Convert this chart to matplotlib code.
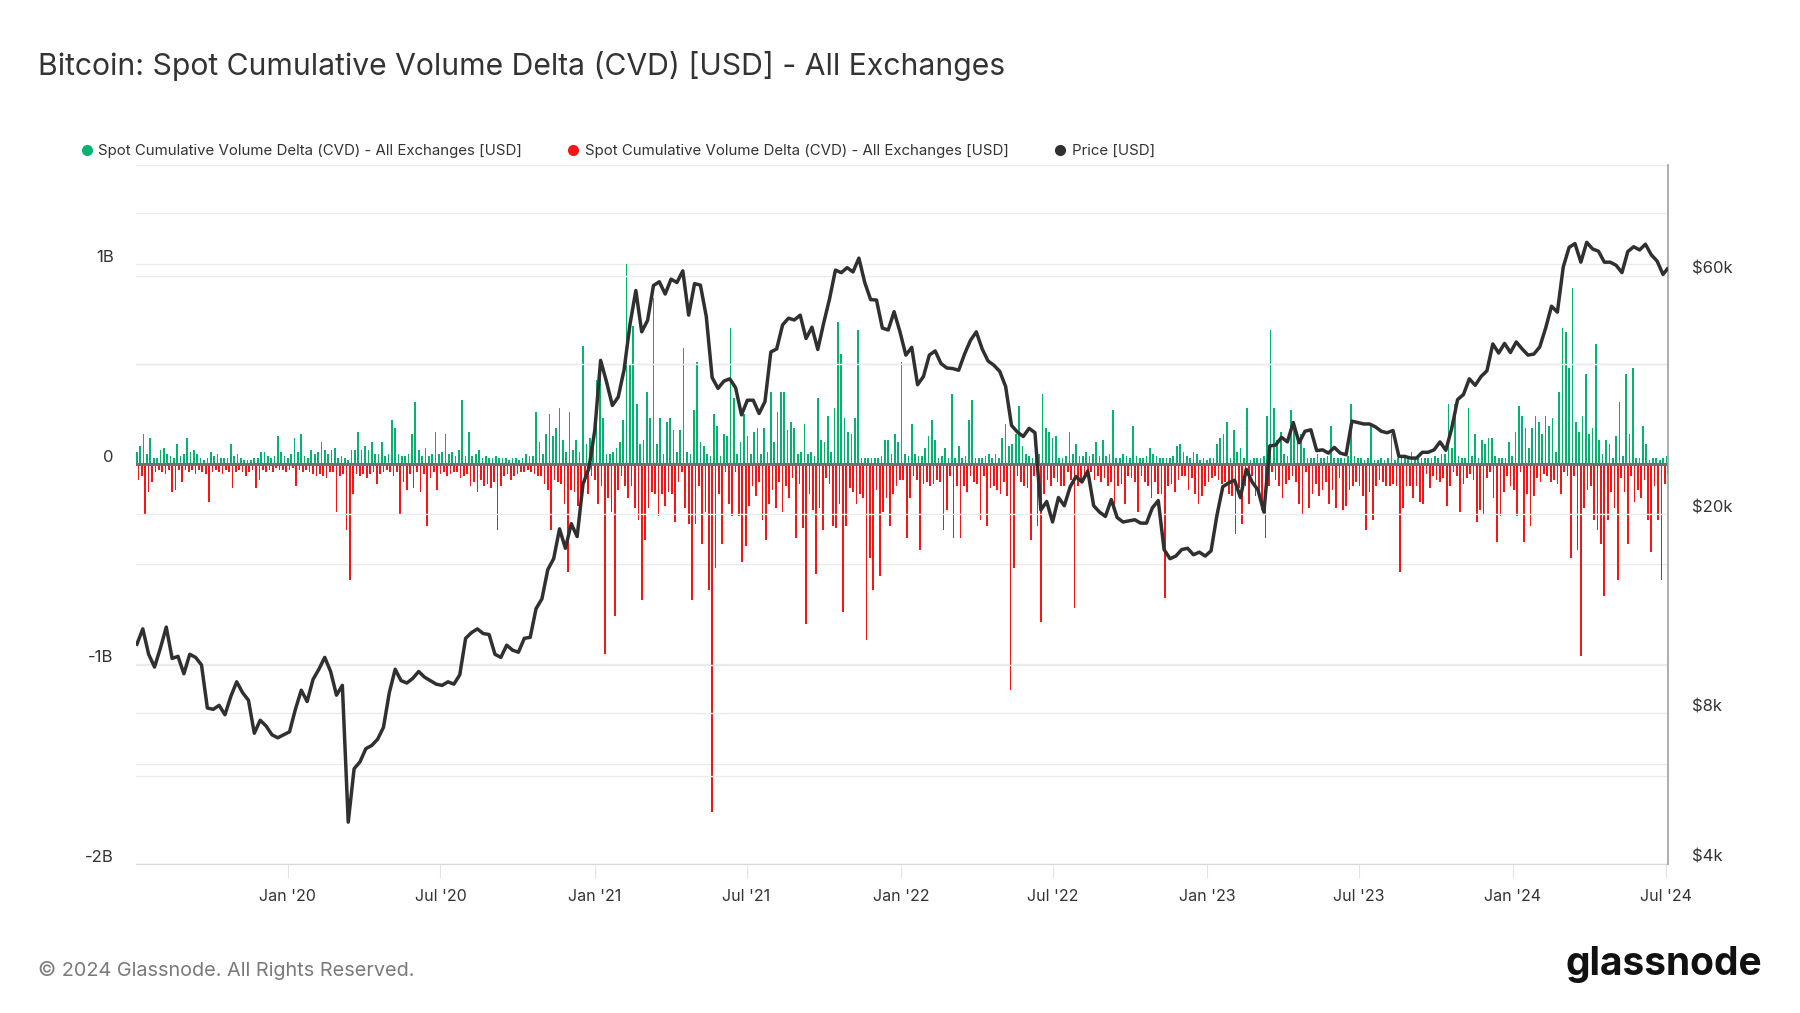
import numpy as np
import pandas as pd
import matplotlib
matplotlib.use('Agg')
import matplotlib.pyplot as plt
import matplotlib.dates as mdates
import matplotlib.ticker as mticker
from matplotlib.lines import Line2D
from matplotlib.transforms import ScaledTranslation

plt.rcParams['font.family'] = ['Inter', 'DejaVu Sans']

GREEN = '#05b370'
RED = '#f21616'
PRICE = '#303030'

# spot CVD, buy side / sell side, 4-day buckets from 2019-07-05, units of 10M USD
cvd_buy = [
    6, 9, 15, 5, 13, 3, 3, 7, 8, 5,
    4, 3, 10, 4, 5, 13, 6, 7, 5, 3,
    2, 3, 6, 4, 5, 3, 3, 3, 10, 4,
    5, 3, 2, 2, 2, 3, 3, 6, 6, 4,
    3, 4, 14, 6, 4, 3, 5, 13, 6, 15,
    4, 3, 7, 5, 6, 11, 7, 5, 7, 8,
    3, 4, 3, 2, 7, 7, 16, 7, 9, 7,
    11, 5, 5, 11, 4, 5, 22, 18, 5, 4,
    4, 5, 15, 31, 7, 4, 8, 4, 5, 16,
    5, 6, 15, 5, 6, 4, 7, 32, 4, 16,
    4, 5, 7, 3, 4, 3, 3, 4, 3, 3,
    3, 2, 3, 3, 2, 3, 5, 4, 4, 26,
    11, 5, 15, 25, 14, 18, 28, 12, 6, 26,
    7, 12, 6, 59, 10, 13, 8, 42, 46, 23,
    5, 5, 6, 8, 11, 22, 100, 50, 69, 30,
    10, 12, 36, 23, 83, 10, 23, 5, 21, 23,
    17, 6, 17, 58, 6, 5, 27, 51, 11, 9,
    5, 4, 25, 19, 4, 15, 14, 68, 33, 5,
    11, 25, 14, 5, 16, 18, 5, 18, 6, 36,
    11, 26, 36, 36, 17, 21, 18, 5, 6, 20,
    5, 6, 4, 33, 12, 11, 24, 6, 28, 71,
    55, 23, 16, 15, 23, 67, 3, 3, 3, 3,
    3, 3, 4, 12, 12, 5, 15, 11, 51, 5,
    4, 20, 5, 4, 4, 8, 14, 22, 12, 3,
    4, 8, 3, 35, 3, 9, 3, 4, 22, 32,
    3, 3, 3, 4, 5, 3, 5, 3, 13, 20,
    9, 10, 15, 29, 9, 5, 4, 3, 3, 5,
    35, 18, 16, 13, 14, 3, 3, 4, 16, 5,
    10, 4, 4, 6, 4, 5, 11, 4, 12, 4,
    5, 27, 3, 3, 5, 4, 3, 19, 4, 3,
    3, 4, 8, 5, 4, 3, 3, 3, 3, 4,
    9, 10, 6, 4, 3, 6, 5, 2, 3, 2,
    3, 3, 10, 13, 15, 21, 3, 17, 6, 8,
    3, 28, 2, 3, 3, 3, 4, 24, 67, 28,
    12, 16, 5, 4, 27, 21, 12, 15, 8, 3,
    3, 3, 5, 3, 3, 4, 19, 3, 3, 3,
    3, 4, 30, 4, 3, 3, 2, 3, 20, 2,
    2, 3, 2, 3, 15, 2, 3, 3, 3, 4,
    6, 3, 3, 3, 3, 3, 3, 4, 3, 5,
    5, 30, 8, 30, 4, 3, 3, 28, 4, 15,
    3, 12, 10, 13, 13, 4, 3, 3, 3, 11,
    4, 16, 29, 24, 18, 8, 18, 24, 21, 15,
    24, 19, 23, 6, 36, 68, 66, 48, 88, 21,
    16, 24, 45, 15, 18, 60, 12, 5, 12, 10,
    3, 14, 31, 4, 45, 15, 48, 3, 3, 19,
    10, 2, 3, 3, 2, 3, 4,
]

cvd_sell = [
    8, 6, 25, 14, 9, 4, 3, 4, 5, 3,
    14, 13, 3, 9, 3, 4, 3, 5, 3, 4,
    5, 19, 4, 3, 4, 5, 3, 4, 12, 4,
    3, 4, 6, 4, 3, 12, 8, 3, 4, 3,
    4, 2, 3, 3, 4, 3, 2, 11, 3, 4,
    3, 4, 5, 6, 5, 6, 7, 4, 4, 24,
    6, 5, 33, 58, 15, 5, 6, 5, 7, 5,
    4, 10, 5, 4, 3, 4, 6, 4, 25, 9,
    13, 5, 12, 4, 14, 5, 31, 7, 4, 13,
    5, 4, 6, 5, 4, 4, 7, 6, 5, 11,
    9, 14, 8, 11, 10, 12, 9, 33, 11, 6,
    5, 8, 6, 5, 4, 4, 3, 4, 5, 6,
    6, 10, 13, 33, 8, 9, 10, 20, 54, 13,
    14, 21, 15, 9, 15, 6, 8, 20, 11, 95,
    17, 24, 76, 13, 6, 11, 17, 11, 22, 28,
    68, 38, 22, 14, 15, 26, 15, 21, 14, 15,
    29, 9, 4, 22, 30, 68, 30, 11, 40, 24,
    63, 174, 52, 15, 40, 4, 20, 26, 4, 26,
    49, 41, 21, 11, 16, 9, 28, 38, 20, 13,
    22, 9, 24, 11, 17, 7, 37, 10, 32, 80,
    15, 23, 55, 22, 33, 7, 10, 31, 32, 20,
    74, 31, 12, 14, 20, 15, 17, 88, 47, 63,
    13, 56, 24, 17, 31, 15, 11, 8, 8, 37,
    17, 6, 8, 43, 10, 9, 11, 10, 8, 9,
    33, 23, 6, 37, 11, 37, 11, 14, 6, 9,
    10, 28, 6, 31, 12, 11, 13, 15, 9, 16,
    113, 52, 6, 9, 11, 12, 38, 6, 31, 79,
    15, 8, 11, 7, 9, 11, 11, 4, 8, 72,
    11, 8, 6, 6, 4, 8, 6, 9, 7, 11,
    9, 24, 11, 10, 20, 6, 7, 9, 24, 6,
    9, 11, 17, 9, 15, 15, 67, 11, 10, 14,
    8, 6, 6, 13, 7, 15, 20, 16, 11, 9,
    7, 6, 8, 10, 9, 15, 16, 35, 12, 30,
    11, 20, 6, 16, 15, 23, 37, 11, 4, 8,
    11, 17, 10, 8, 6, 9, 20, 25, 4, 22,
    15, 10, 16, 13, 9, 20, 13, 22, 7, 23,
    21, 13, 11, 9, 11, 16, 33, 14, 28, 11,
    8, 9, 11, 11, 10, 11, 54, 22, 11, 11,
    17, 11, 19, 20, 5, 12, 6, 8, 9, 7,
    21, 11, 4, 6, 24, 10, 7, 5, 8, 29,
    23, 25, 7, 4, 17, 39, 26, 14, 6, 11,
    13, 26, 4, 39, 15, 31, 16, 7, 9, 5,
    6, 9, 8, 10, 15, 4, 6, 47, 6, 43,
    96, 22, 13, 11, 28, 33, 40, 66, 28, 14,
    22, 58, 7, 14, 40, 6, 19, 13, 17, 8,
    28, 44, 11, 28, 58, 10, 5,
]

# BTC price, weekly from 2019-07-05, last point 2024-07-03
price_usd = [
    # 2019
    11000, 11800, 10500, 9900, 10800, 11900, 10300, 10400, 9600, 10500,
    10350, 10000, 8200, 8150, 8300, 7950, 8650, 9250, 8800, 8500,
    7300, 7750, 7550, 7250, 7150, 7250,
    # 2020
    7350, 8150, 8900, 8450, 9350, 9800, 10350, 9700, 8700, 9100,
    4850, 6200, 6400, 6800, 6900, 7100, 7500, 8800, 9800, 9300,
    9200, 9400, 9700, 9450, 9300, 9150, 9100, 9250, 9150, 9550,
    11300, 11600, 11800, 11550, 11500, 10500, 10350, 10950, 10700, 10600,
    11300, 11350, 12950, 13550, 15500, 16300, 18700, 17100, 19150, 18050,
    23000, 24700,
    # 2021
    29400, 40600, 36800, 33000, 34300, 38900, 47900, 56000, 46300, 48800,
    57300, 58300, 55100, 59000, 58100, 61300, 50000, 57800, 57400, 49700,
    37500, 35700, 36900, 37300, 35800, 31600, 33800, 33800, 31800, 33600,
    42200, 42800, 47800, 49300, 48900, 50000, 44900, 47300, 42700, 48200,
    53900, 61500, 60800, 62200, 61000, 65000, 58100, 53700, 53600, 47100,
    46700, 50800, 46300,
    # 2022
    41600, 43100, 36300, 37700, 41600, 42400, 40000, 39200, 39100, 38800,
    41800, 44500, 46300, 42800, 40500, 39700, 38600, 36000, 30100, 29200,
    28600, 29700, 29100, 20400, 21200, 19300, 21600, 20800, 22700, 23800,
    23200, 24400, 20800, 20200, 19800, 21400, 19700, 19300, 19400, 19500,
    19200, 19200, 20600, 21300, 17000, 16300, 16500, 17000, 17100, 16600,
    16800, 16500,
    # 2023
    16900, 19900, 22700, 23100, 23400, 21600, 24600, 23200, 22350, 20200,
    27400, 27500, 28500, 27900, 30500, 27800, 29300, 29500, 26800, 26900,
    26500, 27200, 26500, 26300, 30700, 30500, 30300, 30300, 29900, 29300,
    29100, 29400, 26100, 26100, 25900, 25900, 26600, 26600, 26900, 27900,
    26850, 29700, 33900, 34700, 37300, 36200, 37700, 38700, 43800, 42000,
    43900, 42100,
    # 2024
    44200, 42800, 41600, 41800, 43200, 47100, 52100, 50700, 62400, 68300,
    69500, 63800, 69900, 67800, 67100, 63800, 63800, 62900, 60800, 67000,
    68500, 67500, 69300, 66000, 64100, 60300,
    61800,
]

legend_labels = [
    'Spot Cumulative Volume Delta (CVD) - All Exchanges [USD]',
    'Spot Cumulative Volume Delta (CVD) - All Exchanges [USD]',
    'Price [USD]',
]


def main():
    n = len(cvd_buy)
    assert n == len(cvd_sell), (n, len(cvd_sell))
    buy_dates = pd.date_range('2019-07-05', periods=n, freq='4D')
    sell_dates = buy_dates + pd.Timedelta(days=2)
    price_dates = list(pd.date_range('2019-07-05', periods=len(price_usd) - 1, freq='7D'))
    price_dates.append(pd.Timestamp('2024-07-03'))

    fig = plt.figure(figsize=(18, 10.13), dpi=100)
    ax = fig.add_axes([0.0756, 0.1471, 0.8511, 0.6905])
    ax2 = ax.twinx()

    ax.bar(buy_dates, np.array(cvd_buy) * 1e7, width=2.0, color=GREEN, linewidth=0, zorder=2)
    ax.bar(sell_dates, -np.array(cvd_sell) * 1e7, width=2.0, color=RED, linewidth=0, zorder=2)
    ax.axhline(0, color='#707070', lw=2.2, zorder=3)

    ax.set_ylim(-2e9, 1.5e9)
    ax.set_yticks([-2e9, -1e9, 0, 1e9])
    ax.set_yticklabels(['-2B', '-1B', '0', '1B'])
    ax.set_yticks([-1.5e9, -0.5e9, 0.5e9, 1.5e9], minor=True)
    ax.grid(axis='y', which='both', color='#ebebeb', lw=1)
    ax.set_axisbelow(True)

    ax.set_xlim(pd.Timestamp('2019-07-04'), pd.Timestamp('2024-07-04'))
    ax.xaxis.set_major_locator(mdates.MonthLocator(bymonth=[1, 7]))
    ax.xaxis.set_major_formatter(mdates.DateFormatter("%b '%y"))

    ax2.plot(price_dates, price_usd, color=PRICE, lw=2.5, solid_joinstyle='round', zorder=5)
    ax2.set_yscale('log')
    ax2.set_ylim(4000, 100000)
    ax2.yaxis.set_major_locator(mticker.FixedLocator([4000, 8000, 20000, 60000]))
    ax2.yaxis.set_major_formatter(mticker.FixedFormatter(['\\$4k', '\\$8k', '\\$20k', '\\$60k']))
    ax2.yaxis.set_minor_locator(mticker.FixedLocator([6000, 10000, 40000, 80000]))
    ax2.yaxis.set_minor_formatter(mticker.NullFormatter())
    ax2.grid(axis='y', which='both', color='#ebebeb', lw=1)

    for a in (ax, ax2):
        for s in ('top', 'left', 'right', 'bottom'):
            a.spines[s].set_visible(False)
    ax.spines['bottom'].set_visible(True)
    ax.spines['bottom'].set_color('#d9d9d9')
    ax2.spines['right'].set_visible(True)
    ax2.spines['right'].set_color('#a0a0a0')
    ax2.spines['right'].set_linewidth(1.2)

    ax.tick_params(axis='y', which='both', length=0, pad=16, labelsize=12, labelcolor='#333333')
    ax.tick_params(axis='x', length=10, width=0.8, color='#e3e3e3', pad=8, labelsize=11.5,
                   labelcolor='#333333')
    ax2.tick_params(axis='y', which='both', length=0, pad=17, labelsize=12, labelcolor='#333333')

    # labels sit a little above their grid lines
    lift = ScaledTranslation(0, 0.08, fig.dpi_scale_trans)
    for lab in ax.get_yticklabels() + ax2.get_yticklabels():
        lab.set_transform(lab.get_transform() + lift)

    handles = [
        Line2D([], [], marker='o', ls='', color=GREEN, markersize=7),
        Line2D([], [], marker='o', ls='', color=RED, markersize=7),
        Line2D([], [], marker='o', ls='', color=PRICE, markersize=7),
    ]
    fig.legend(handles, legend_labels, loc='center left', bbox_to_anchor=(79 / 1800, 1 - 151 / 1013),
               ncol=3, frameon=False, fontsize=10.8, handletextpad=0.3, columnspacing=2.88,
               handlelength=1.0, borderpad=0, borderaxespad=0, labelcolor='#333333')

    fig.text(38 / 1800, 1 - 66 / 1013, 'Bitcoin: Spot Cumulative Volume Delta (CVD) [USD] - All Exchanges',
             fontsize=21.7, color='#333333', va='center', ha='left')
    fig.text(38 / 1800, 1 - 970 / 1013, '© 2024 Glassnode. All Rights Reserved.',
             fontsize=14.3, color='#7a7a7a', va='center', ha='left')
    fig.text(1762 / 1800, 1 - 964 / 1013, 'glassnode', fontsize=28, weight='bold',
             color='#111111', va='center', ha='right')

    fig.savefig('out.png', dpi=100)
    plt.close(fig)


if __name__ == '__main__':
    main()
